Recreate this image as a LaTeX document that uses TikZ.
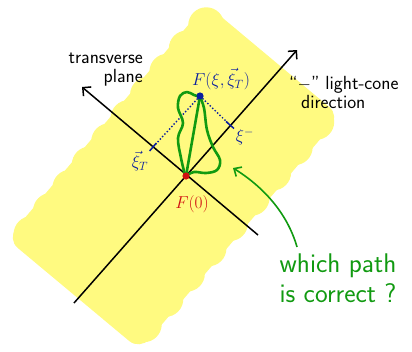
\documentclass[tikz,border=0pt]{standalone}
\definecolor{hl-yellow}{HTML}{FFFA80}
\definecolor{ink-green}{HTML}{119A11}
\definecolor{ink-blue}{HTML}{0A1E9E}
\definecolor{ink-red}{HTML}{D01010}
\usetikzlibrary{arrows.meta,positioning,calc}

\begin{document}
\begin{tikzpicture}[x=1pt, y=-1pt,
  hl/.style={fill=hl-yellow, draw=none},
  axis/.style={line width=1.5pt, -{Straight Barb[length=6pt,width=12pt]}},
  tick/.style={draw=ink-blue, line width=1.5pt},
  proj/.style={draw=ink-blue, line width=1.4pt, dotted},
  gpath/.style={draw=ink-green, line width=2.6pt, line join=round, line cap=round},
  garr/.style={draw=ink-green, line width=1.6pt, -{Straight Barb[length=6pt,width=11pt]}},
  blk/.style={font=\sffamily\fontsize{19}{19}\selectfont, align=left, inner sep=0pt},
  gtxt/.style={text=ink-green, font=\sffamily\fontsize{27}{30}\selectfont, align=center, inner sep=0pt},
  lbl/.style={font=\fontsize{17}{20}\selectfont, inner sep=0pt}]
  \useasboundingbox (0,0) rectangle (412,351);

  % yellow highlight band with wavy sides
  \coordinate (lt) at (214,16);
  \coordinate (lb) at (20,248);
  \coordinate (rt) at (328,108);
  \coordinate (rb) at (132,338);
  \fill[hl, rounded corners=14pt] ($(lt)+(-8,-12)$) -- ($(rt)+(12,8)$) -- ($(rb)+(8,12)$) -- ($(lb)+(-13,-9)$) -- cycle;
  \fill[hl] (lt) -- (rt) -- (rb) -- (lb) -- cycle;
  \foreach \t in {0.04,0.14,...,0.96}
    \fill[hl] ($(lt)!\t!(lb)$) circle (18);
  \foreach \t in {0.06,0.17,...,0.96}
    \fill[hl] ($(rt)!\t!(rb)$) circle (18);

  % axes
  \coordinate (lcS) at (74,303);
  \coordinate (lcE) at (297,50);
  \coordinate (trS) at (258,235);
  \coordinate (trE) at (82,87);
  \draw[axis] (lcS) -- (lcE);
  \draw[axis] (trS) -- (trE);

  % points and projections
  \coordinate (o) at (186,176);
  \coordinate (f) at (200,96);
  \coordinate (tT) at (153,147);
  \coordinate (tM) at (230,125);
  \draw[tick] ($(tT)+(3.4,-4)$) -- ($(tT)+(-3.4,4)$);
  \draw[tick] ($(tM)+(-4,-3.5)$) -- ($(tM)+(4,3.5)$);
  \draw[proj] (f) -- (tT);
  \draw[proj] (f) -- (tM);

  % candidate paths
  \draw[gpath] plot[smooth, tension=0.6] coordinates {(185,175) (181,158) (178,138) (183,123) (178,108) (180,96) (187,92) (194,95) (200,97)};
  \draw[gpath] plot[smooth, tension=0.6] coordinates {(200,97) (204,108) (207,130) (213,147) (220,160) (217,170) (206,173) (194,172) (186,176)};
  \draw[gpath] (o) -- (f);

  \fill[ink-red] (o) circle (3.6);
  \fill[ink-blue] (f) circle (3.6);

  % labels
  \node[blk, align=right, anchor=east] (tpl) at (143,70) {transverse\\plane};
  \node[blk, anchor=west] (lcd) at (289,92) {``$-$'' light-cone\\\hspace*{12pt}direction};
  \node[lbl, text=ink-blue, anchor=south] (fl) at (221,90) {$F(\xi,\vec{\xi}_T)$};
  \node[lbl, text=ink-red] (ol) at (192,204) {$F(0)$};
  \node[lbl, text=ink-blue] (xt) at (140,161) {$\vec{\xi}_T$};
  \node[lbl, text=ink-blue] (xm) at (245,137) {$\xi^-$};
  \node[gtxt] (q) at (338,278) {which path\\is correct ?};

  \coordinate (qa) at (297,247);
  \draw[garr] (qa) .. controls (287,212) and (262,186) .. (233,168);
\end{tikzpicture}
\end{document}
